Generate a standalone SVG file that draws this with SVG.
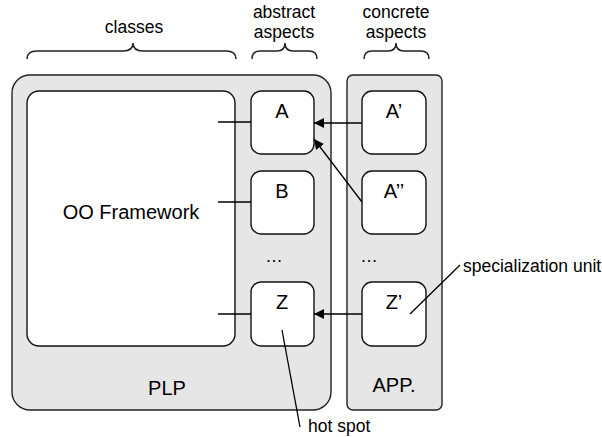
<svg xmlns="http://www.w3.org/2000/svg" width="602" height="437" viewBox="0 0 602 437">
<style>
.grp{fill:#e6e6e6;stroke:#222;stroke-width:1.4}
.box{fill:#fff;stroke:#111;stroke-width:1.4}
.t{font-family:"Liberation Sans",Arial,sans-serif;fill:#000}
.big{font-size:20px;text-anchor:middle}
.sm{font-size:17.5px}
.c{text-anchor:middle}
.ln{stroke:#000;stroke-width:1.3;fill:none}
.br{stroke:#222;stroke-width:1.5;fill:none}
</style>
<defs>
<marker id="ah" viewBox="0 0 10 10" refX="10" refY="5" markerWidth="10" markerHeight="10" markerUnits="userSpaceOnUse" orient="auto">
<path d="M0,0 L10,5 L0,10 Z" fill="#000"/>
</marker>
</defs>
<rect fill="#fff" width="602" height="437"/>
<g id="labels">
<text class="t sm c" x="134" y="33">classes</text>
<text class="t sm c" x="284" y="18">abstract</text>
<text class="t sm c" x="284" y="38">aspects</text>
<text class="t sm c" x="396" y="18">concrete</text>
<text class="t sm c" x="396" y="38">aspects</text>
<path class="br" d="M27,59 Q27,51 37,51 L123,51 Q133,51 133,43 Q133,51 143,51 L226,51 Q236,51 236,59"/>
<path class="br" d="M252,59 Q252,51 260,51 L277,51 Q285,51 285,43 Q285,51 293,51 L309,51 Q317,51 317,59"/>
<path class="br" d="M364,59 Q364,51 372,51 L388,51 Q396,51 396,43 Q396,51 404,51 L421,51 Q429,51 429,59"/>
</g>
<g id="PLP">
<rect class="grp" x="12" y="75" width="319" height="335" rx="18"/>
<text class="t big" x="167" y="395">PLP</text>
</g>
<g id="APP">
<rect class="grp" x="347" y="75" width="95" height="335" rx="6"/>
<text class="t big" x="394" y="392">APP.</text>
</g>
<g id="framework">
<rect class="box" x="27" y="91" width="208" height="255" rx="12"/>
<text class="t big" x="131" y="219">OO Framework</text>
</g>
<g id="A"><rect class="box" x="251" y="91" width="63" height="63" rx="10"/><text class="t big" x="282" y="118">A</text></g>
<g id="B"><rect class="box" x="251" y="171" width="63" height="63" rx="10"/><text class="t big" x="282" y="198">B</text></g>
<g id="Z"><rect class="box" x="251" y="282" width="63" height="64" rx="10"/><text class="t big" x="282" y="309">Z</text></g>
<g id="A1"><rect class="box" x="362" y="91" width="64" height="63" rx="10"/><text class="t big" x="394" y="118">A’</text></g>
<g id="A2"><rect class="box" x="362" y="171" width="64" height="63" rx="10"/><text class="t big" x="394" y="198">A’’</text></g>
<g id="Z1"><rect class="box" x="362" y="282" width="64" height="64" rx="10"/><text class="t big" x="394" y="309">Z’</text></g>
<g id="dots">
<text class="t sm c" x="274" y="262">…</text>
<text class="t sm c" x="369" y="262">…</text>
</g>
<g id="connectors">
<line class="ln" x1="218" y1="122" x2="251" y2="122"/>
<line class="ln" x1="218" y1="202" x2="251" y2="202"/>
<line class="ln" x1="218" y1="314" x2="251" y2="314"/>
<line class="ln" x1="362" y1="123" x2="314" y2="123" marker-end="url(#ah)"/>
<line class="ln" x1="362" y1="202" x2="314" y2="139" marker-end="url(#ah)"/>
<line class="ln" x1="362" y1="314" x2="314" y2="314" marker-end="url(#ah)"/>
<line class="ln" x1="282" y1="330" x2="300" y2="427"/>
<line class="ln" x1="410" y1="314" x2="460" y2="265"/>
</g>
<g id="annotations">
<text class="t sm" x="308" y="432">hot spot</text>
<text class="t sm" x="463" y="272">specialization unit</text>
</g>
</svg>
